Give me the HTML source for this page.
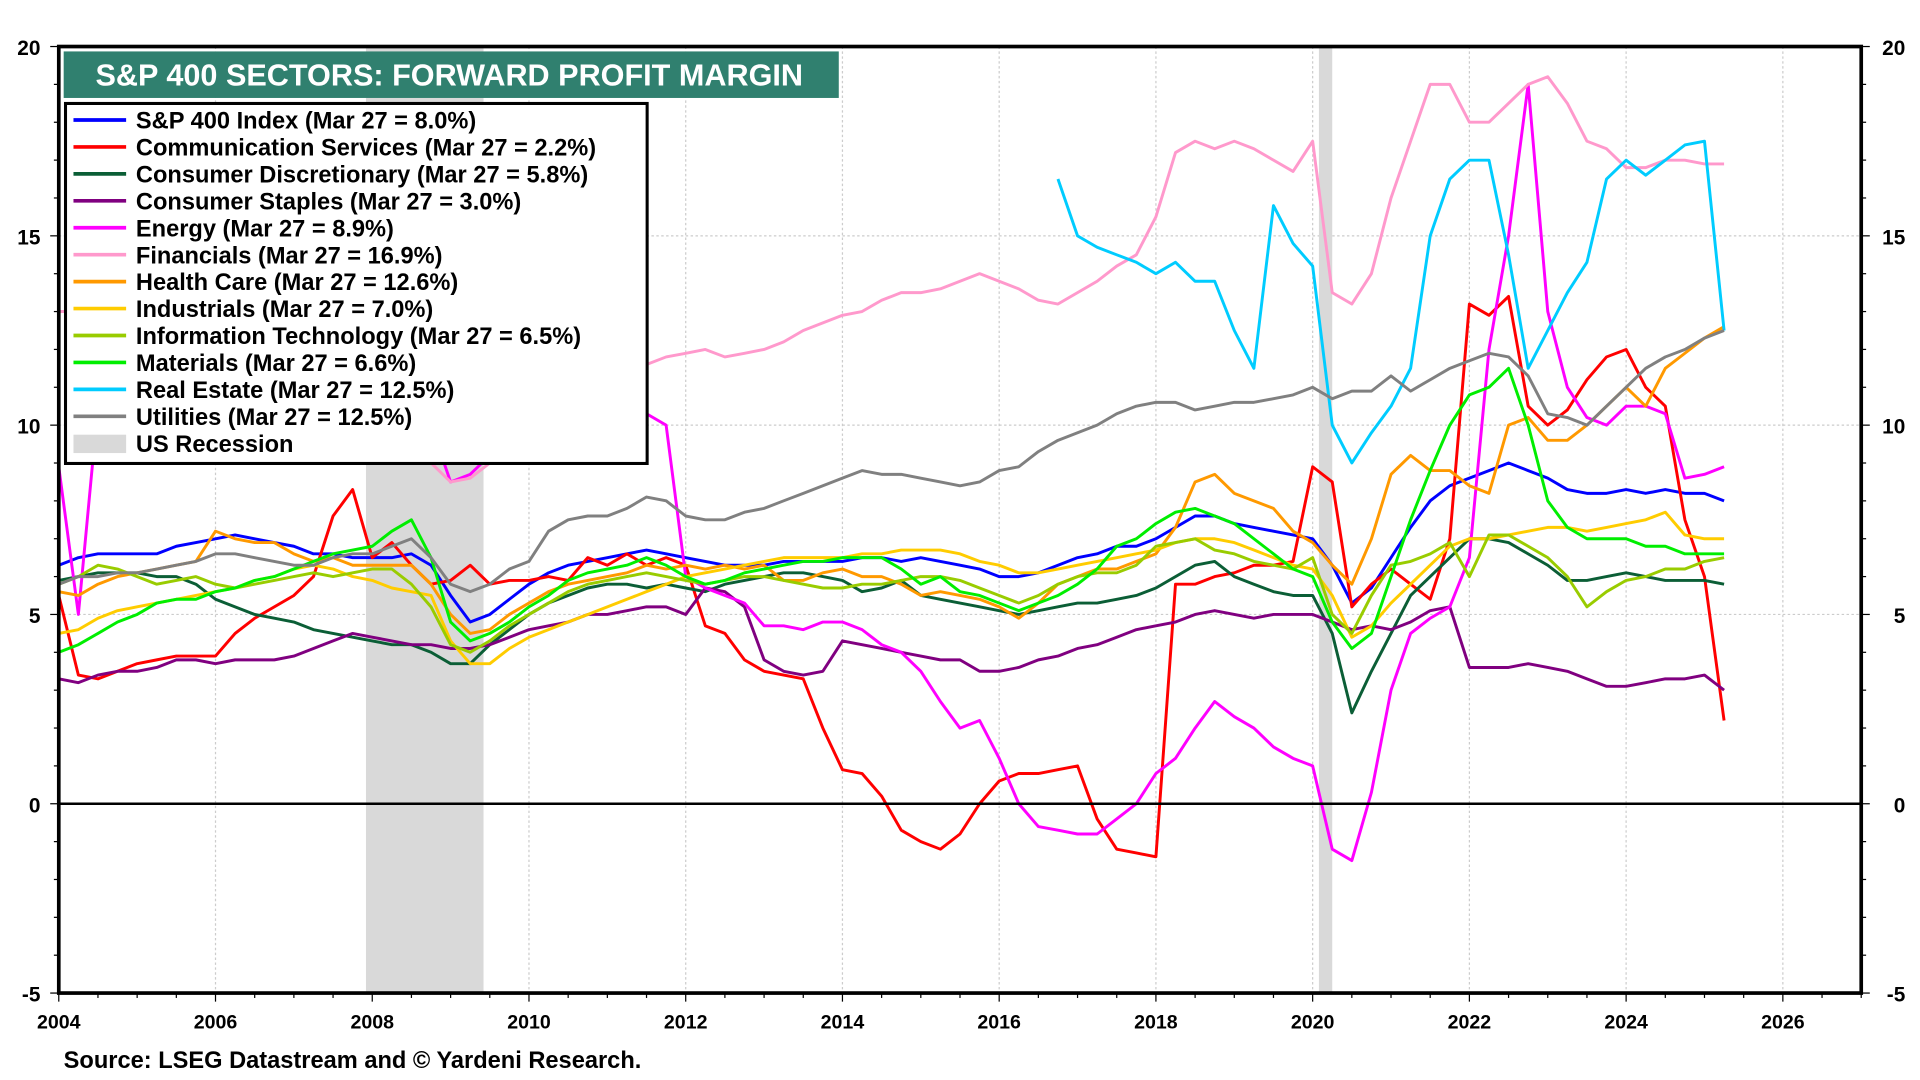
<!DOCTYPE html>
<html><head><meta charset="utf-8"><style>
html,body{margin:0;padding:0;background:#fff;}
svg{display:block;font-family:"Liberation Sans",Arial,sans-serif;}
</style></head><body>
<svg id="chart" width="1920" height="1080" viewBox="0 0 1568 882" xmlns="http://www.w3.org/2000/svg">
<g id="grid"></g>
<g id="recess"></g>
<g id="series"></g>
<g id="axes"></g>
<g>
<rect x="52" y="42" width="633" height="38" fill="#30806f"/>
<text x="78" y="70" font-size="25" font-weight="bold" fill="#fff">S&amp;P 400 SECTORS: FORWARD PROFIT MARGIN</text>
</g>
<g id="legend">
<rect x="53.5" y="84.5" width="475" height="294" fill="#fff" stroke="#000" stroke-width="2.5"/>
</g>
<text x="52" y="872" font-size="19.3" font-weight="bold">Source: LSEG Datastream and © Yardeni Research.</text>
</svg>
<script>
const NS='http://www.w3.org/2000/svg';
const dates=[];for(let i=0;i<86;i++)dates.push(2004+i*0.25);
const recessions=[[2007.92,2009.42],[2020.08,2020.25]];
const yTicks=[-5,0,5,10,15,20];
const xTicks=[2004,2006,2008,2010,2012,2014,2016,2018,2020,2022,2024,2026];
const names=["S&P 400 Index (Mar 27 = 8.0%)","Communication Services (Mar 27 = 2.2%)","Consumer Discretionary (Mar 27 = 5.8%)","Consumer Staples (Mar 27 = 3.0%)","Energy (Mar 27 = 8.9%)","Financials (Mar 27 = 16.9%)","Health Care (Mar 27 = 12.6%)","Industrials (Mar 27 = 7.0%)","Information Technology (Mar 27 = 6.5%)","Materials (Mar 27 = 6.6%)","Real Estate (Mar 27 = 12.5%)","Utilities (Mar 27 = 12.5%)"];
const colors=["#0000ff","#ff0000","#0b5e36","#800080","#ff00ff","#ff99cc","#ff9900","#ffcc00","#99cc00","#00ee00","#00ccff","#808080"];
const sp400=[6.3,6.5,6.6,6.6,6.6,6.6,6.8,6.9,7.0,7.1,7.0,6.9,6.8,6.6,6.6,6.5,6.5,6.5,6.6,6.3,5.5,4.8,5.0,5.4,5.8,6.1,6.3,6.4,6.5,6.6,6.7,6.6,6.5,6.4,6.3,6.3,6.3,6.4,6.4,6.4,6.4,6.5,6.5,6.4,6.5,6.4,6.3,6.2,6.0,6.0,6.1,6.3,6.5,6.6,6.8,6.8,7.0,7.3,7.6,7.6,7.4,7.3,7.2,7.1,7.0,6.3,5.3,5.7,6.5,7.3,8.0,8.4,8.6,8.8,9.0,8.8,8.6,8.3,8.2,8.2,8.3,8.2,8.3,8.2,8.2,8.0];
const commServices=[5.5,3.4,3.3,3.5,3.7,3.8,3.9,3.9,3.9,4.5,4.9,5.2,5.5,6.0,7.6,8.3,6.5,6.9,6.3,5.8,5.9,6.3,5.8,5.9,5.9,6.0,5.9,6.5,6.3,6.6,6.3,6.5,6.3,4.7,4.5,3.8,3.5,3.4,3.3,2.0,0.9,0.8,0.2,-0.7,-1.0,-1.2,-0.8,0.0,0.6,0.8,0.8,0.9,1.0,-0.4,-1.2,-1.3,-1.4,5.8,5.8,6.0,6.1,6.3,6.3,6.4,8.9,8.5,5.2,5.8,6.2,5.8,5.4,7.0,13.2,12.9,13.4,10.5,10.0,10.4,11.2,11.8,12.0,11.0,10.5,7.5,6.0,2.2];
const consDisc=[5.9,6.0,6.1,6.1,6.1,6.0,6.0,5.8,5.4,5.2,5.0,4.9,4.8,4.6,4.5,4.4,4.3,4.2,4.2,4.0,3.7,3.7,4.2,4.6,5.0,5.3,5.5,5.7,5.8,5.8,5.7,5.8,5.7,5.6,5.8,5.9,6.0,6.1,6.1,6.0,5.9,5.6,5.7,5.9,5.5,5.4,5.3,5.2,5.1,5.0,5.1,5.2,5.3,5.3,5.4,5.5,5.7,6.0,6.3,6.4,6.0,5.8,5.6,5.5,5.5,4.5,2.4,3.5,4.5,5.5,6.0,6.5,7.0,7.0,6.9,6.6,6.3,5.9,5.9,6.0,6.1,6.0,5.9,5.9,5.9,5.8];
const consStaples=[3.3,3.2,3.4,3.5,3.5,3.6,3.8,3.8,3.7,3.8,3.8,3.8,3.9,4.1,4.3,4.5,4.4,4.3,4.2,4.2,4.1,4.1,4.2,4.4,4.6,4.7,4.8,5.0,5.0,5.1,5.2,5.2,5.0,5.7,5.6,5.2,3.8,3.5,3.4,3.5,4.3,4.2,4.1,4.0,3.9,3.8,3.8,3.5,3.5,3.6,3.8,3.9,4.1,4.2,4.4,4.6,4.7,4.8,5.0,5.1,5.0,4.9,5.0,5.0,5.0,4.8,4.6,4.7,4.6,4.8,5.1,5.2,3.6,3.6,3.6,3.7,3.6,3.5,3.3,3.1,3.1,3.2,3.3,3.3,3.4,3.0];
const energy=[8.9,5.0,10.5,12,13,14,14,14,14,14,13,13,13,13,13,13,13,13,12,10,8.5,8.7,9.2,10,11,11,11,11,11,10.5,10.3,10.0,6.0,5.7,5.5,5.3,4.7,4.7,4.6,4.8,4.8,4.6,4.2,4.0,3.5,2.7,2.0,2.2,1.2,0.0,-0.6,-0.7,-0.8,-0.8,-0.4,0.0,0.8,1.2,2.0,2.7,2.3,2.0,1.5,1.2,1.0,-1.2,-1.5,0.3,3.0,4.5,4.9,5.2,6.5,12.0,15.0,19.0,13.0,11.0,10.2,10.0,10.5,10.5,10.3,8.6,8.7,8.9];
const financials=[13,13,13,13,13,13,13,13,13,13,13,13,13,13,12,12,11,10,9.5,9.0,8.5,8.6,9.0,9.5,10,10.5,11,11,11.3,11.5,11.6,11.8,11.9,12.0,11.8,11.9,12.0,12.2,12.5,12.7,12.9,13.0,13.3,13.5,13.5,13.6,13.8,14.0,13.8,13.6,13.3,13.2,13.5,13.8,14.2,14.5,15.5,17.2,17.5,17.3,17.5,17.3,17.0,16.7,17.5,13.5,13.2,14.0,16.0,17.5,19.0,19.0,18.0,18.0,18.5,19.0,19.2,18.5,17.5,17.3,16.8,16.8,17.0,17.0,16.9,16.9];
const healthCare=[5.6,5.5,5.8,6.0,6.1,6.2,6.3,6.4,7.2,7.0,6.9,6.9,6.6,6.4,6.5,6.3,6.3,6.3,6.3,5.8,5.0,4.5,4.6,5.0,5.3,5.6,5.8,5.9,6.0,6.1,6.3,6.2,6.3,6.2,6.3,6.2,6.3,5.9,5.9,6.1,6.2,6.0,6.0,5.8,5.5,5.6,5.5,5.4,5.2,4.9,5.3,5.8,6.0,6.2,6.2,6.4,6.6,7.3,8.5,8.7,8.2,8.0,7.8,7.2,6.9,6.3,5.8,7.0,8.7,9.2,8.8,8.8,8.4,8.2,10.0,10.2,9.6,9.6,10.0,10.5,11.0,10.5,11.5,11.9,12.3,12.6];
const industrials=[4.5,4.6,4.9,5.1,5.2,5.3,5.4,5.5,5.6,5.7,5.9,6.0,6.2,6.3,6.2,6.0,5.9,5.7,5.6,5.5,4.3,3.7,3.7,4.1,4.4,4.6,4.8,5.0,5.2,5.4,5.6,5.8,6.0,6.1,6.2,6.3,6.4,6.5,6.5,6.5,6.5,6.6,6.6,6.7,6.7,6.7,6.6,6.4,6.3,6.1,6.1,6.2,6.3,6.4,6.5,6.6,6.7,6.9,7.0,7.0,6.9,6.7,6.5,6.3,6.2,5.5,4.4,4.7,5.3,5.8,6.3,6.8,7.0,7.0,7.1,7.2,7.3,7.3,7.2,7.3,7.4,7.5,7.7,7.1,7.0,7.0];
const infoTech=[5.8,6.0,6.3,6.2,6.0,5.8,5.9,6.0,5.8,5.7,5.8,5.9,6.0,6.1,6.0,6.1,6.2,6.2,5.8,5.2,4.2,4.0,4.3,4.7,5.0,5.3,5.6,5.8,5.9,6.0,6.1,6.0,5.9,5.8,5.9,6.0,6.0,5.9,5.8,5.7,5.7,5.8,5.8,5.9,6.0,6.0,5.9,5.7,5.5,5.3,5.5,5.8,6.0,6.1,6.1,6.3,6.8,6.9,7.0,6.7,6.6,6.4,6.3,6.2,6.5,5.0,4.5,5.5,6.3,6.4,6.6,6.9,6.0,7.1,7.1,6.8,6.5,6.0,5.2,5.6,5.9,6.0,6.2,6.2,6.4,6.5];
const materials=[4.0,4.2,4.5,4.8,5.0,5.3,5.4,5.4,5.6,5.7,5.9,6.0,6.2,6.4,6.6,6.7,6.8,7.2,7.5,6.5,4.8,4.3,4.5,4.8,5.2,5.5,5.9,6.1,6.2,6.3,6.5,6.3,6.0,5.8,5.9,6.1,6.2,6.3,6.4,6.4,6.5,6.5,6.5,6.2,5.8,6.0,5.6,5.5,5.3,5.1,5.3,5.5,5.8,6.2,6.8,7.0,7.4,7.7,7.8,7.6,7.4,7.0,6.6,6.2,6.0,4.8,4.1,4.5,6.0,7.5,8.8,10.0,10.8,11.0,11.5,10.0,8.0,7.3,7.0,7.0,7.0,6.8,6.8,6.6,6.6,6.6];
const realEstate=[null,null,null,null,null,null,null,null,null,null,null,null,null,null,null,null,null,null,null,null,null,null,null,null,null,null,null,null,null,null,null,null,null,null,null,null,null,null,null,null,null,null,null,null,null,null,null,null,null,null,null,16.5,15.0,14.7,14.5,14.3,14.0,14.3,13.8,13.8,12.5,11.5,15.8,14.8,14.2,10.0,9.0,9.8,10.5,11.5,15.0,16.5,17.0,17.0,14.5,11.5,12.5,13.5,14.3,16.5,17.0,16.6,17.0,17.4,17.5,12.5];
const utilities=[5.8,6.0,6.0,6.1,6.1,6.2,6.3,6.4,6.6,6.6,6.5,6.4,6.3,6.3,6.5,6.6,6.6,6.8,7.0,6.5,5.8,5.6,5.8,6.2,6.4,7.2,7.5,7.6,7.6,7.8,8.1,8.0,7.6,7.5,7.5,7.7,7.8,8.0,8.2,8.4,8.6,8.8,8.7,8.7,8.6,8.5,8.4,8.5,8.8,8.9,9.3,9.6,9.8,10.0,10.3,10.5,10.6,10.6,10.4,10.5,10.6,10.6,10.7,10.8,11.0,10.7,10.9,10.9,11.3,10.9,11.2,11.5,11.7,11.9,11.8,11.3,10.3,10.2,10.0,10.5,11.0,11.5,11.8,12.0,12.3,12.5];
const allSeries=[sp400,commServices,consDisc,consStaples,energy,financials,healthCare,industrials,infoTech,materials,realEstate,utilities];
const seriesKeys=["sp400","communication-services","consumer-discretionary","consumer-staples","energy","financials","health-care","industrials","information-technology","materials","real-estate","utilities"];

const L=48,R=1520,T=38,B=811,X0=2004,X1=2027,Y0=-5,Y1=20;
const xs=v=>L+(v-X0)/(X1-X0)*(R-L);
const ys=v=>B-(v-Y0)/(Y1-Y0)*(B-T);
function mk(tag,attrs,parent,txt){const e=document.createElementNS(NS,tag);for(const k in attrs)e.setAttribute(k,attrs[k]);if(txt!==undefined)e.textContent=txt;parent.appendChild(e);return e;}
const grid=document.getElementById('grid'),axes=document.getElementById('axes'),rec=document.getElementById('recess'),ser=document.getElementById('series'),leg=document.getElementById('legend');
mk('rect',{x:L,y:T,width:R-L,height:B-T,fill:'#fff'},grid);
yTicks.forEach(t=>{if(t>Y0&&t<Y1){const g=mk('line',{x1:L,x2:R,y1:ys(t),y2:ys(t),stroke:'#ccc','stroke-dasharray':'2,2','stroke-width':1},grid);

}});
xTicks.forEach(t=>{if(t>X0){const g=mk('line',{x1:xs(t),x2:xs(t),y1:T,y2:B,stroke:'#ccc','stroke-dasharray':'2,2','stroke-width':1},grid);

}});
recessions.forEach(r=>{const e=mk('rect',{x:xs(r[0]),y:T,width:xs(r[1])-xs(r[0]),height:B-T,fill:'#d9d9d9'},rec);

});
const z=mk('line',{x1:L,x2:R,y1:ys(0),y2:ys(0),stroke:'#000','stroke-width':2},axes);


allSeries.forEach((s,i)=>{let d='',pen=false;s.forEach((v,j)=>{if(v===null){pen=false;return;}d+=(pen?'L':'M')+xs(dates[j]).toFixed(1)+','+ys(v).toFixed(1);pen=true;});
const p=mk('path',{d:d,fill:'none',stroke:colors[i],'stroke-width':2.4,'stroke-linejoin':'round'},ser);

});
mk('rect',{x:L,y:T,width:R-L,height:B-T,fill:'none',stroke:'#000','stroke-width':3},axes);
for(let v=Y0;v<=Y1;v++){const len=(v%5===0)?7:4;mk('line',{x1:L-len,x2:L,y1:ys(v),y2:ys(v),stroke:'#000','stroke-width':1},axes);mk('line',{x1:R,x2:R+len,y1:ys(v),y2:ys(v),stroke:'#000','stroke-width':1},axes);}
yTicks.forEach(t=>{const a=mk('text',{x:33,y:ys(t)+7,'text-anchor':'end','font-size':17,'font-weight':'bold'},axes,String(t));


const b=mk('text',{x:1556,y:ys(t)+7,'text-anchor':'end','font-size':17,'font-weight':'bold'},axes,String(t));

});
for(let q=X0*2;q<=X1*2;q++){const v=q/2;const big=(v%2===0);mk('line',{x1:xs(v),x2:xs(v),y1:B,y2:B+(big?7:4),stroke:'#000','stroke-width':1},axes);}
xTicks.forEach(t=>{const a=mk('text',{x:xs(t),y:840,'text-anchor':'middle','font-size':16,'font-weight':'bold'},axes,String(t));

});
names.forEach((n,i)=>{const y=98+i*22;mk('line',{x1:60,x2:103,y1:y,y2:y,stroke:colors[i],'stroke-width':3},leg);
const t=mk('text',{x:111,y:y+7,'font-size':19.3,'font-weight':'bold'},leg,n);

});
mk('rect',{x:60,y:355,width:43,height:15,fill:'#d9d9d9'},leg);
const lr=mk('text',{x:111,y:369,'font-size':19.3,'font-weight':'bold'},leg,'US Recession');


</script>
</body></html>
